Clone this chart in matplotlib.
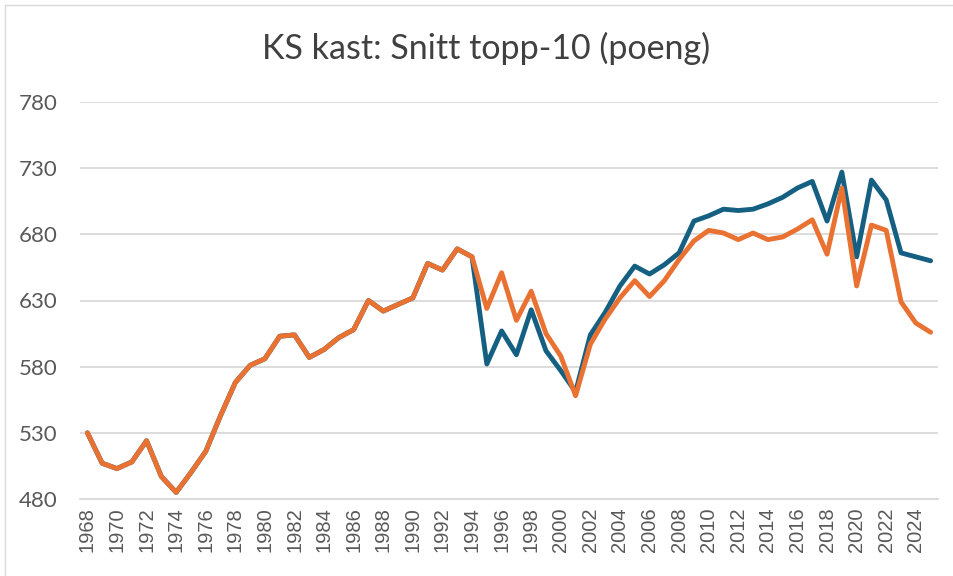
import matplotlib
matplotlib.use("Agg")
import matplotlib.pyplot as plt
from matplotlib.lines import Line2D

years = list(range(1968, 2026))

# orange series (drawn on top)
orange = [530, 507, 503, 508, 524, 497, 485, 500, 516, 543,
          568, 581, 586, 603, 604, 587, 593, 602, 608, 630,
          622, 627, 632, 658, 653, 669, 663, 624, 651, 615,
          637, 605, 588, 558, 597, 616, 632, 645, 633, 645,
          661, 675, 683, 681, 676, 681, 676, 678, 684, 691,
          665, 715, 641, 687, 683, 629, 613, 606]

# blue series
blue = [530, 507, 503, 508, 524, 497, 485, 500, 516, 543,
        568, 581, 586, 603, 604, 587, 593, 602, 608, 630,
        622, 627, 632, 658, 653, 669, 663, 582, 607, 589,
        623, 592, 577, 561, 604, 621, 641, 656, 650, 657,
        666, 690, 694, 699, 698, 699, 703, 708, 715, 720,
        690, 727, 663, 721, 706, 666, 663, 660]

title = "KS kast: Snitt topp-10 (poeng)"
yticks = [480, 530, 580, 630, 680, 730, 780]

fig = plt.figure(figsize=(9.54, 5.76), dpi=100)
ax = fig.add_axes([80 / 954, 1 - 499 / 576, (938 - 80) / 954, (499 - 102) / 576])

ax.plot(years, blue, color="#156082", lw=3.5, solid_joinstyle="round", solid_capstyle="round", zorder=3)
ax.plot(years, orange, color="#E97132", lw=3.5, solid_joinstyle="round", solid_capstyle="round", zorder=4)

ax.set_xlim(1967.5, 2025.5)
ax.set_ylim(480, 780)
ax.set_yticks(yticks)
ax.set_yticklabels([str(v) for v in yticks], fontsize=16, color="#595959", family="Lato")
ax.set_xticks(years[::2])
ax.set_xticklabels([str(y) for y in years[::2]], rotation=90, fontsize=14.5,
                   color="#595959", family="Liberation Sans")
ax.tick_params(axis="both", length=0)
ax.tick_params(axis="y", pad=16)
ax.tick_params(axis="x", pad=6)

ax.grid(axis="y", color="#D9D9D9", lw=1.3)
ax.set_axisbelow(True)
for s in ["top", "right", "left"]:
    ax.spines[s].set_visible(False)
ax.spines["bottom"].set_color("#D9D9D9")
ax.spines["bottom"].set_linewidth(1.3)

fig.text(486 / 954, 1 - 48 / 576, title, ha="center", va="center", fontsize=24.5,
         color="#404040", family="Lato")

# chart border
fig.add_artist(Line2D([5 / 954, 5 / 954], [0, 1 - 5 / 576], color="#D9D9D9", lw=1))
fig.add_artist(Line2D([5 / 954, 1], [1 - 5 / 576, 1 - 5 / 576], color="#D9D9D9", lw=1))

fig.savefig("out.png", dpi=100)
